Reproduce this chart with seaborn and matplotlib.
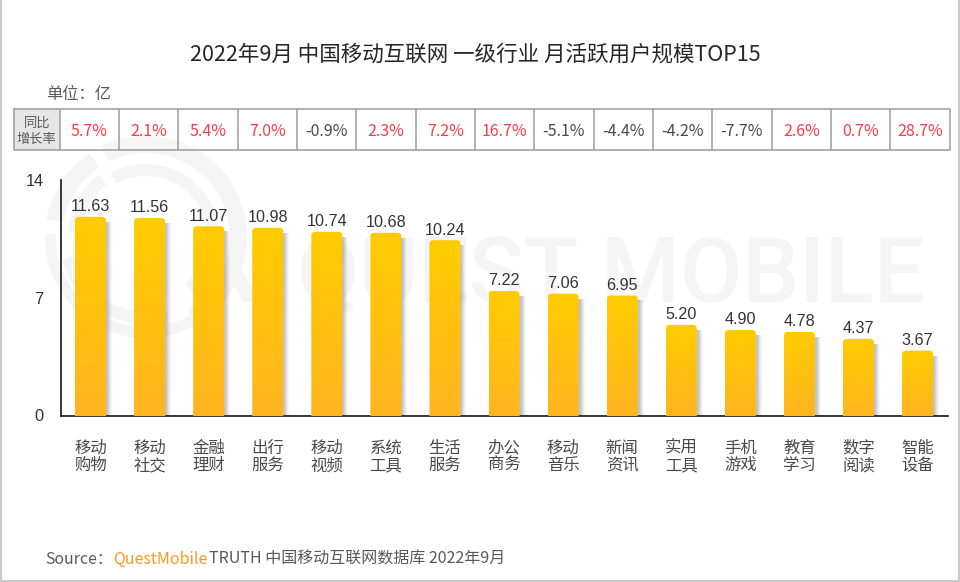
import matplotlib
matplotlib.use('Agg')
import matplotlib.pyplot as plt
from matplotlib.patches import FancyBboxPatch, Rectangle, Wedge, Polygon
from matplotlib.transforms import ScaledTranslation
import numpy as np
import pandas as pd
import seaborn as sns

sns.set_theme(style='white')
plt.rcParams['font.family'] = ['Noto Sans CJK SC', 'DejaVu Sans']

categories = ['移动\n购物', '移动\n社交', '金融\n理财', '出行\n服务', '移动\n视频',
              '系统\n工具', '生活\n服务', '办公\n商务', '移动\n音乐', '新闻\n资讯',
              '实用\n工具', '手机\n游戏', '教育\n学习', '数字\n阅读', '智能\n设备']
users = [11.63, 11.56, 11.07, 10.98, 10.74, 10.68, 10.24, 7.22, 7.06, 6.95,
         5.20, 4.90, 4.78, 4.37, 3.67]
growth = [5.7, 2.1, 5.4, 7.0, -0.9, 2.3, 7.2, 16.7, -5.1, -4.4, -4.2, -7.7, 2.6, 0.7, 28.7]
y_ticks = [0, 7, 14]

W, H = 960, 582
TEXT = '#4a4a4a'
GRID = '#a3a3a3'

fig = plt.figure(figsize=(W / 100, H / 100), dpi=100)
fig.patch.set_facecolor('white')

# background layer in pixel coordinates: frame, watermark, table, captions
bg = fig.add_axes([0, 0, 1, 1], zorder=0)
bg.set_xlim(0, W)
bg.set_ylim(H, 0)
bg.axis('off')

# frame
bg.plot([0.5, 0.5, 958.5, 958.5], [0, 580.5, 580.5, 0], color='#c8c8c8', lw=1.4, clip_on=False)

# watermark logo + text
wm = '#f5f5f5'
cx, cy = 146, 237
rings = [(101, 17, [(-60, 116), (124, 170)]),
         (101, 11, [(178, 300)]),
         (78, 13, [(127, 176)]),
         (73, 12, [(-50, 119)]),
         (87, 12, [(195, 285)])]
for r, w, spans in rings:
    for a, b in spans:
        # y axis is flipped so angles are mirrored
        bg.add_patch(Wedge((cx, cy), r, -b, -a, width=w, fc=wm, ec='none'))
bg.add_patch(Polygon([[222, 268], [236, 262], [262, 302], [244, 302]], fc=wm, ec='none'))
bg.text(297, 302, 'QUEST MOBILE', color=wm, fontsize=65, family='Roboto', fontweight='medium',
        va='baseline', ha='left')

# titles
bg.text(475, 55, '2022年9月 中国移动互联网 一级行业 月活跃用户规模TOP15', ha='center', va='center',
        fontsize=15.5, color='#262626', fontweight='medium')
bg.text(46, 95, '单位：亿', ha='left', va='center', fontsize=11.7, color='#595959')

# growth table
x0, x1, x_end = 14, 59.5, 949.7
y0, y1 = 108.5, 150
step = (x_end - x1) / len(growth)
bg.add_patch(Rectangle((x0, y0), x1 - x0, y1 - y0, fc='#e6e6e6', ec='none'))
bg.plot([x0, x_end, x_end, x0, x0], [y0, y0, y1, y1, y0], color=GRID, lw=1.2)
for i in range(len(growth)):
    bg.plot([x1 + i * step] * 2, [y0, y1], color=GRID, lw=1.2)
bg.text((x0 + x1) / 2, 123, '同比', ha='center', va='center', fontsize=9.5, color='#595959')
bg.text((x0 + x1) / 2, 139, '增长率', ha='center', va='center', fontsize=9.5, color='#595959')
for i, g in enumerate(growth):
    bg.text(x1 + (i + 0.5) * step, 132, '{:.1f}%'.format(g), ha='center', va='center',
            fontsize=11.5, color='#ff3a48' if g > 0 else TEXT)

# source line
src_y = 559
bg.text(45, src_y, 'Source：', ha='left', va='center', fontsize=11.4, color='#595959')
bg.text(113, src_y, 'QuestMobile', ha='left', va='center', fontsize=11.5, color='#ff9a1e')
bg.text(209, src_y, 'TRUTH 中国移动互联网数据库 2022年9月', ha='left', va='center', fontsize=11.5, color='#595959')

# bar chart, 14 sits at y=177px, axis line at y=416px
left, right, top, bottom = 60.5, 947.7, 177, 416
ax = fig.add_axes([left / W, 1 - bottom / H, (right - left) / W, (bottom - top) / H], zorder=1)
ax.patch.set_alpha(0)
df = pd.DataFrame({'category': categories, 'users': users})
sns.barplot(data=df, x='category', y='users', color='#ffc000', width=0.525, saturation=1, ax=ax)
ax.set_xlim(-0.508, 14.51)
ax.set_ylim(-0.22, 14)
ax.set_xlabel('')
ax.set_ylabel('')
for s in ['top', 'right']:
    ax.spines[s].set_visible(False)
for s in ['left', 'bottom']:
    ax.spines[s].set_color('#262626')
    ax.spines[s].set_linewidth(1.3)
ax.spines['left'].set_bounds(-0.22, 13.82)
ax.set_yticks(y_ticks)
ax.tick_params(axis='x', length=0, pad=17, labelsize=11.8, labelcolor=TEXT)
ax.tick_params(axis='y', length=0, pad=12, labelsize=11.8, labelcolor='#333333')
for lab in ax.get_xticklabels():
    lab.set_linespacing(1.05)
for lab in ax.get_yticklabels():
    lab.set_family('Liberation Sans')
    lab.set_transform(lab.get_transform() + ScaledTranslation(0, -3 / 100, fig.dpi_scale_trans))

# x units per px and y units per px, keeps the corners round
px_x = (14.51 + 0.508) / (right - left)
px_y = (14 + 0.22) / (bottom - top)
gradient = np.linspace(0, 1, 64)[:, None]
cmap = matplotlib.colors.LinearSegmentedColormap.from_list('bar', ['#ffb520', '#ffcc00'])

for bar, v in zip(list(ax.patches), users):
    xb, wb = bar.get_x(), bar.get_width()
    bar.set_visible(False)
    # soft shadow on the right
    for off, al in [(6, 0.05), (5, 0.07), (4, 0.09), (3, 0.12), (2, 0.15)]:
        ax.add_patch(Rectangle((xb + wb - 3 * px_x, -0.22), (3 + off) * px_x,
                               v + 0.22 - 5 * px_y, fc='#707070', ec='none', alpha=al, zorder=2))
    # rounded top, lower corners are below the axis
    rounded = FancyBboxPatch((xb, -1), wb, v + 1, boxstyle='round,pad=0,rounding_size={}'.format(4 * px_x),
                             mutation_aspect=px_y / px_x, fc='none', ec='none', transform=ax.transData)
    ax.add_patch(rounded)
    im = ax.imshow(gradient, extent=(xb, xb + wb, -0.22, v), origin='lower', cmap=cmap,
                   aspect='auto', zorder=3)
    im.set_clip_path(rounded)
    ax.text(xb + wb / 2, v + 0.15, '{:.2f}'.format(v), ha='center', va='bottom', fontsize=11.6,
            family='Liberation Sans', color='#333333', zorder=4)

ax.set_xlim(-0.508, 14.51)
ax.set_ylim(-0.22, 14)

fig.savefig('out.png', dpi=100, facecolor='white')
